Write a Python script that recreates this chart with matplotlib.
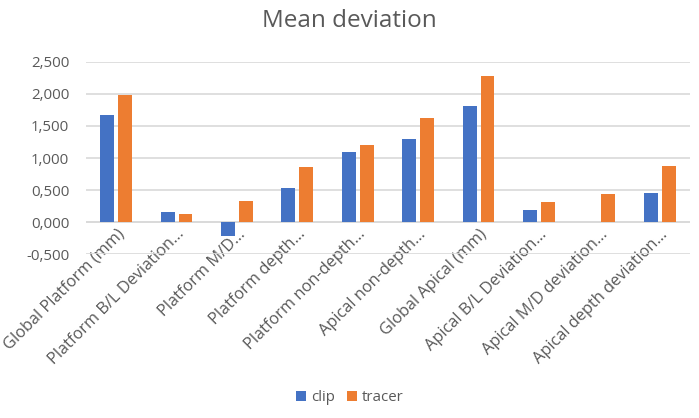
import matplotlib
matplotlib.use("Agg")
import matplotlib.pyplot as plt
import numpy as np
from matplotlib.ticker import FuncFormatter

categories = ["Global Platform (mm)", "Platform B/L Deviation…", "Platform M/D…",
              "Platform depth…", "Platform non-depth…", "Apical non-depth…",
              "Global Apical (mm)", "Apical B/L Deviation…", "Apical M/D deviation…",
              "Apical depth deviation…"]
clip = [1.677, 0.152, -0.223, 0.536, 1.098, 1.297, 1.817, 0.183, 0.005, 0.458]
tracer = [1.989, 0.125, 0.333, 0.859, 1.203, 1.620, 2.277, 0.317, 0.442, 0.870]
yticks = [-0.5, 0.0, 0.5, 1.0, 1.5, 2.0, 2.5]

plt.rcParams['font.family'] = ['Open Sans', 'DejaVu Sans']
txt = '#595959'

fig = plt.figure(figsize=(6.99, 4.18), dpi=100)
ax = fig.add_axes([0.123, 0.392, 0.864, 0.46])
x = np.arange(len(categories))
w = 0.23
ax.bar(x - 0.148, clip, w, color='#4472C4', label='clip', zorder=3)
ax.bar(x + 0.148, tracer, w, color='#ED7D31', label='tracer', zorder=3)
ax.set_xlim(-0.5, len(categories) - 0.5)
ax.set_ylim(-0.5, 2.5)
ax.set_yticks(yticks)
ax.yaxis.set_major_formatter(FuncFormatter(lambda v, p: f"{v:.3f}".replace('.', ',')))
ax.grid(axis='y', color='#D9D9D9', linewidth=1.2, zorder=0)
ax.axhline(0, color='#D9D9D9', linewidth=1.2, zorder=1)
for s in ax.spines.values():
    s.set_visible(False)
ax.spines['bottom'].set_position(('data', 0))
ax.tick_params(axis='y', length=0, colors=txt, labelsize=10.8, pad=12)
ax.set_xticks(x)
ax.set_xticklabels(categories, rotation=45, ha='right', va='top', rotation_mode='anchor', color=txt)
ax.tick_params(axis='x', length=0, colors=txt, labelsize=11.8, pad=3)
fig.text(0.5, 0.95, "Mean deviation", ha='center', va='center', fontsize=17.5, color=txt)
fig.legend(loc='center', bbox_to_anchor=(0.5, 0.048), ncol=2, frameon=False,
           fontsize=10.8, handlelength=0.7, handleheight=0.7, handletextpad=0.3,
           columnspacing=0.8, labelcolor=txt)
fig.savefig("out.png", dpi=100)
